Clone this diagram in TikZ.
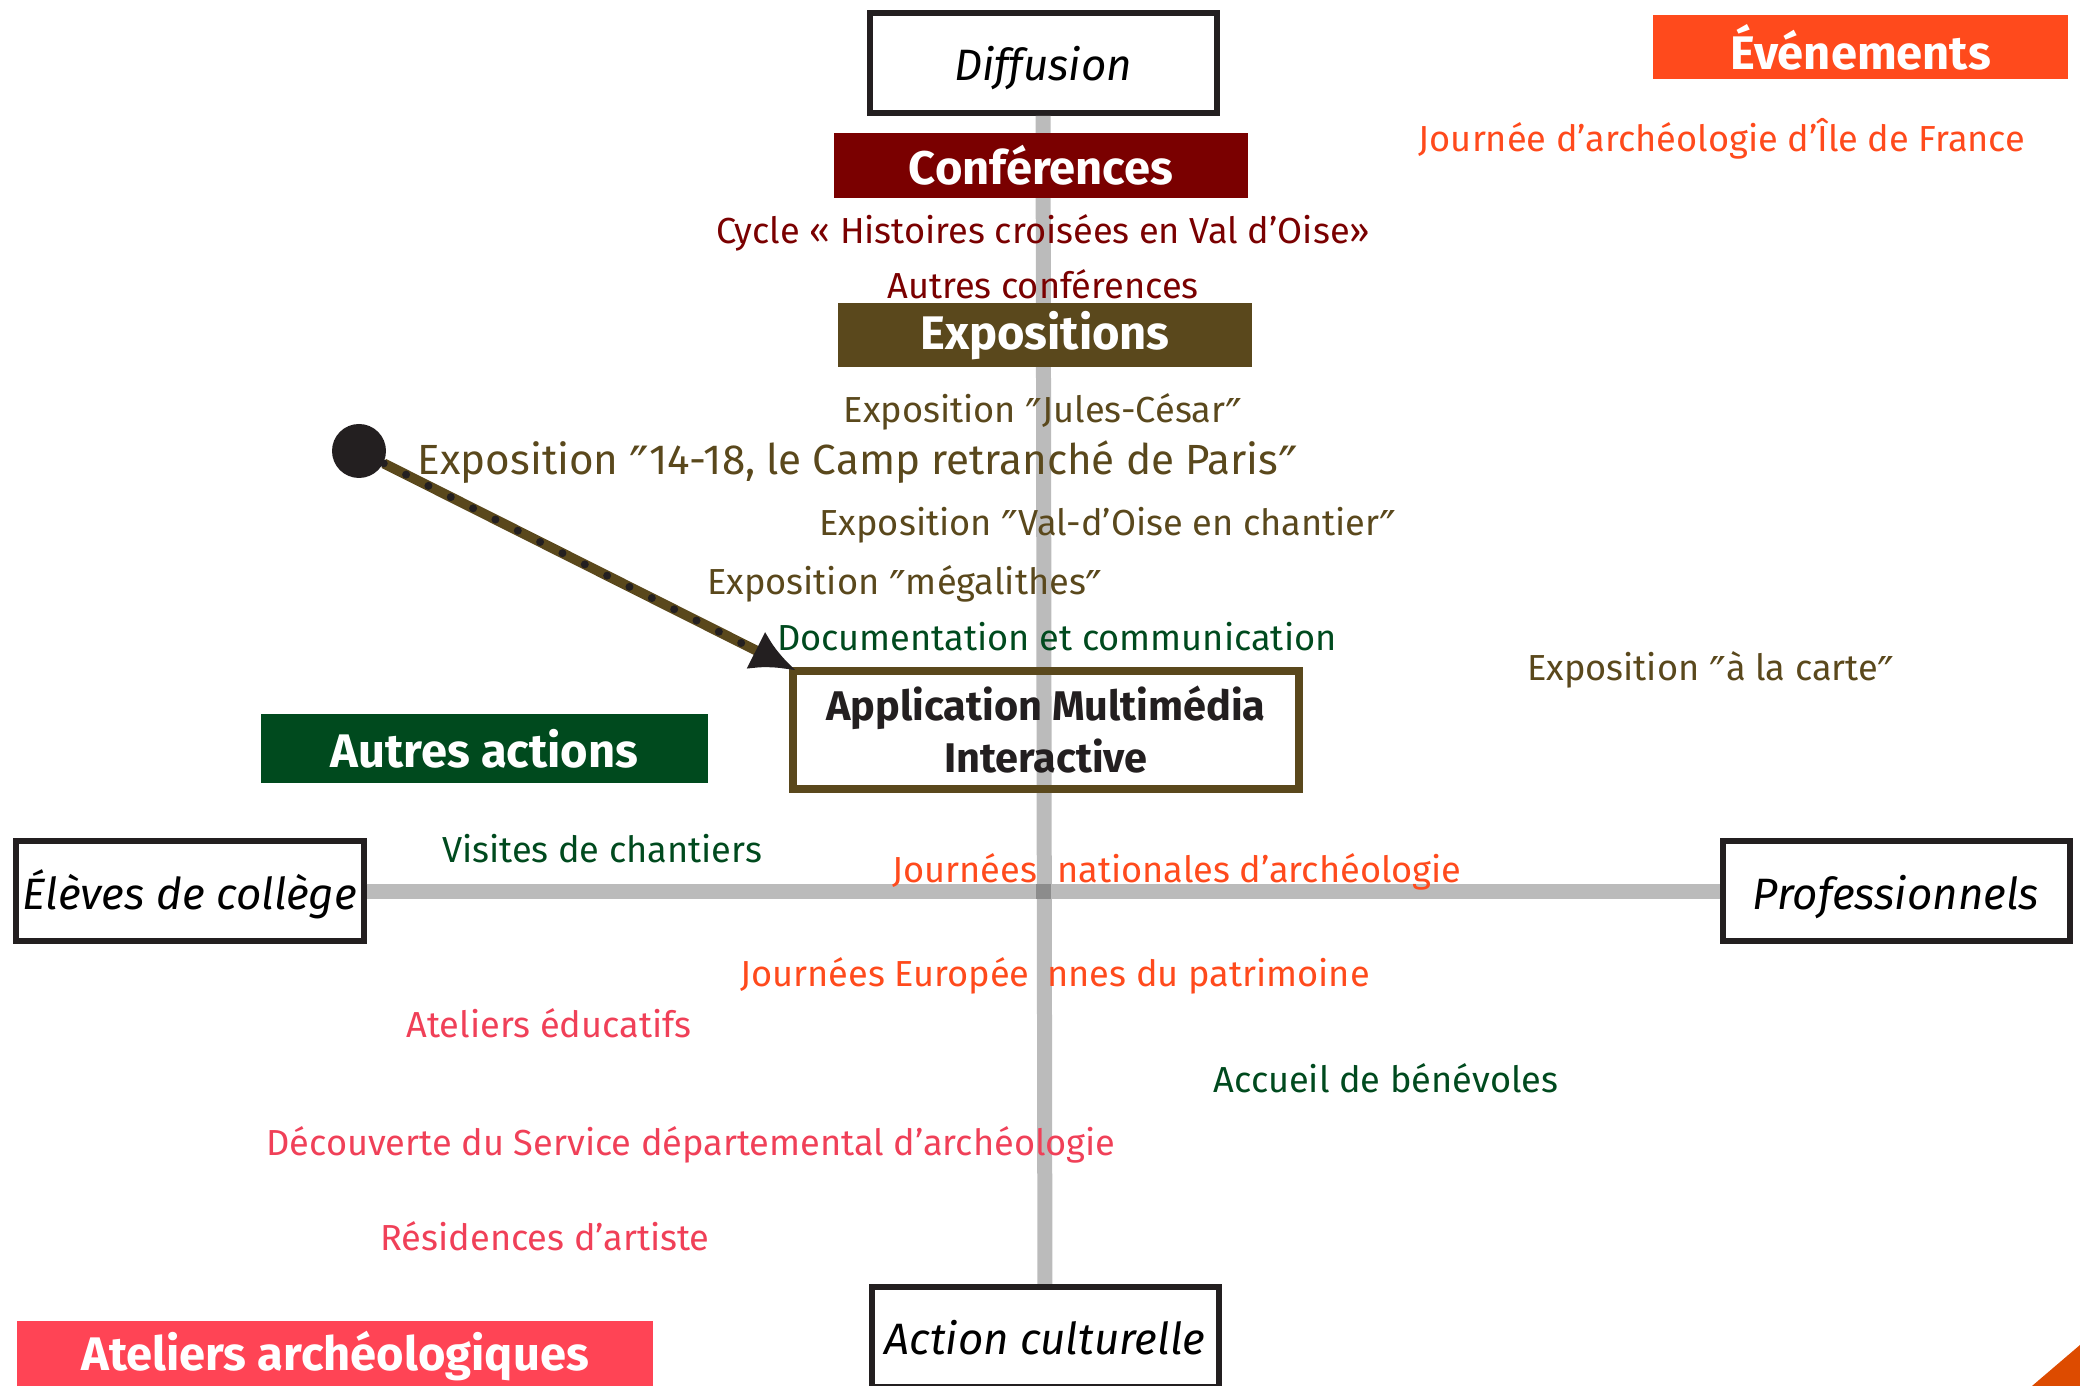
\documentclass[tikz,border=0pt]{standalone}
\usepackage{fontspec}
\setmainfont{Fira Sans}
\newfontfamily\primefont{DejaVu Sans}[Scale=1.25]
\newcommand{\dprime}{\smash{\raisebox{-0.45ex}{\primefont ″}}}
\usetikzlibrary{arrows.meta}

\definecolor{axisgrey}{RGB}{187,187,187}
\definecolor{crossgrey}{RGB}{140,140,140}
\definecolor{boxblack}{RGB}{35,31,32}
\definecolor{evtorange}{RGB}{255,74,28}
\definecolor{confred}{RGB}{122,0,0}
\definecolor{expobrown}{RGB}{90,72,28}
\definecolor{actgreen}{RGB}{0,74,30}
\definecolor{atelpink}{RGB}{255,68,85}
\definecolor{textpink}{RGB}{240,64,88}
\definecolor{cornerorange}{RGB}{221,75,0}

\tikzset{
  axe/.style={line width=0.15cm, draw=axisgrey},
  pole/.style={draw=boxblack, line width=0.06cm, fill=white, inner sep=0,
    minimum width=3.47cm, minimum height=1.0cm, text height=0.43cm, text depth=0.07cm,
    font=\itshape\fontsize{12.5}{14}\selectfont},
  bandeau/.style={text=white, inner sep=0, minimum height=0.64cm,
    font=\bfseries\fontsize{13.4}{15}\selectfont},
  item/.style={inner sep=0, font=\fontsize{10.3}{12}\selectfont},
}

\begin{document}
\begin{tikzpicture}[scale=1]
    \useasboundingbox (0,0) rectangle (20.8,13.86);

    % Pôles
    \node[pole] (diffusion) at (10.43,13.23) {Diffusion};
    \node[pole] (action) at (10.45,0.49) {Action culturelle};
    \node[pole] (eleves) at (1.90,4.945) {Élèves de collège};
    \node[pole] (pros) at (18.96,4.945) {Professionnels};

    % Axes
    \draw[axe] (diffusion) -- (action);
    \draw[axe] (eleves) -- (pros);
    \fill[crossgrey] (diffusion |- eleves) ++(-0.075,-0.075) rectangle ++(0.15,0.15);

    % Conférences
    \node[item, text=confred] (cycle) at (10.43,11.53) {Cycle « Histoires croisées en Val d’Oise»};
    \node[item, text=confred] (autresconf) at (10.43,11.02) {Autres conférences};

    % Expositions
    \node[item, text=expobrown] (cesar) at (10.43,9.74) {Exposition \dprime Jules-César\dprime};
    \node[item, text=expobrown, font=\fontsize{12}{14}\selectfont] (camp) at (8.58,9.24) {Exposition \dprime 14-18, le Camp retranché de Paris\dprime};
    \node[item, text=expobrown] (chantier) at (11.08,8.61) {Exposition \dprime Val-d’Oise en chantier\dprime};
    \node[item, text=expobrown] (megalithes) at (9.05,8.02) {Exposition \dprime mégalithes\dprime};
    \node[item, text=expobrown] (carte) at (17.11,7.16) {Exposition \dprime à la carte\dprime};

    % Autres actions
    \node[item, text=actgreen] (docu) at (10.57,7.49) {Documentation et communication};
    \node[item, text=actgreen] (visites) at (6.02,5.37) {Visites de chantiers};
    \node[item, text=actgreen] (benevoles) at (13.86,3.08) {Accueil de bénévoles};

    % Événements
    \node[item, text=evtorange] (idf) at (17.22,12.47) {Journée d’archéologie d’Île de France};
    \node[item, text=evtorange] (jna) at (11.77,5.14) {Journées\hspace{0.2cm}nationales d’archéologie};
    \node[item, text=evtorange] (jep) at (10.55,4.10) {Journées Europée\hspace{0.18cm}nnes du patrimoine};

    % Ateliers
    \node[item, text=textpink] (educatifs) at (5.49,3.63) {Ateliers éducatifs};
    \node[item, text=textpink] (decouverte) at (6.91,2.41) {Découverte du Service départemental d’archéologie};
    \node[item, text=textpink] (residences) at (5.45,1.50) {Résidences d’artiste};

    % Bandeaux
    \node[bandeau, fill=evtorange, minimum width=4.15cm] (evenements) at (18.605,13.39) {Événements};
    \node[bandeau, fill=confred, minimum width=4.14cm, minimum height=0.65cm] (conferences) at (10.41,12.205) {Conférences};
    \node[bandeau, fill=expobrown, minimum width=4.14cm] (expositions) at (10.45,10.505) {Expositions};
    \node[bandeau, fill=actgreen, minimum width=4.47cm, minimum height=0.69cm] (autres) at (4.845,6.375) {Autres actions};
    \node[bandeau, fill=atelpink, minimum width=6.36cm, minimum height=0.70cm] (ateliers) at (3.35,0.30) {Ateliers archéologiques};

    % Application
    \node[draw=expobrown, line width=0.08cm, minimum width=5.06cm, minimum height=1.18cm,
      align=center, text=boxblack, font=\bfseries\fontsize{11.8}{14.8}\selectfont] (appli) at (10.46,6.56) {Application Multimédia\\Interactive};
    \node[circle, fill=boxblack, minimum size=0.54cm, inner sep=0] (point) at (3.59,9.35) {};
    \draw[expobrown, line width=0.1cm, shorten >=-0.08cm, -{Latex[length=0.45cm,width=0.42cm,color=boxblack]}] (point) -- (appli.north west);
    \draw[boxblack, line width=0.08cm, line cap=round, dash pattern=on 0pt off 0.25cm, shorten >=0.45cm] (point) -- (appli.north west);

    % Coin
    \fill[cornerorange] (20.32,0) -- (20.8,0.41) -- (20.8,0) -- cycle;
\end{tikzpicture}
\end{document}
